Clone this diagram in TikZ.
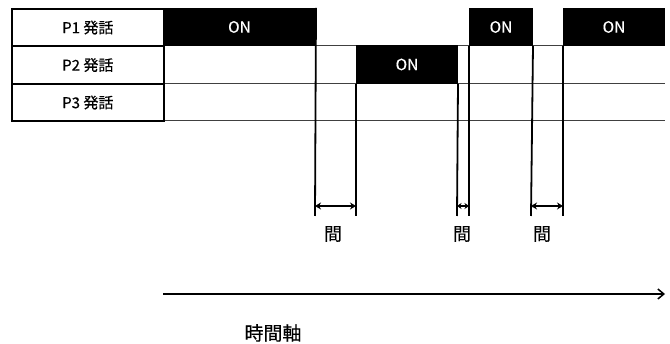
\documentclass[tikz,border=0pt]{standalone}
\usepackage{fontspec}
\setmainfont{Noto Sans CJK JP}[FakeBold=0.4]
\usetikzlibrary{arrows.meta}
\begin{document}
\begin{tikzpicture}[x=1pt,y=-1pt,
  lbl/.style={draw=black, line width=1.6pt, minimum width=152pt, minimum height=37.5pt, inner sep=0pt, anchor=north west, font=\fontsize{15}{17}\selectfont},
  onblk/.style={draw=black, fill=black, line width=1pt, inner sep=0pt, anchor=north west, text=white, font=\fontsize{15.5}{17}\selectfont},
  vline/.style={line width=1.8pt},
  rowline/.style={line width=0.6pt, draw=black!75},
  gaptip/.style={{Stealth[length=6pt,width=7pt]}-{Stealth[length=6pt,width=7pt]}},
  gap/.style={line width=1.4pt, gaptip},
  gaplbl/.style={font=\fontsize{18}{20}\selectfont},
]
\useasboundingbox (0,0) rectangle (670,344);
% row lines
\draw[rowline] (163,45) -- (665,45);
\draw[rowline] (163,83) -- (665,83);
\draw[rowline] (163,120) -- (665,120);
% label cells
\node[lbl] (p1) at (11,8) {P1 発話};
\node[lbl] (p2) at (11,45.5) {P2 発話};
\node[lbl] (p3) at (11,83) {P3 発話};
% ON blocks
\node[onblk, minimum width=152pt, minimum height=37pt] (on1) at (163,8) {ON};
\node[onblk, minimum width=101pt, minimum height=38pt] (on2) at (356,45) {ON};
\node[onblk, minimum width=63pt, minimum height=37pt] (on3) at (469,8) {ON};
\node[onblk, minimum width=101pt, minimum height=37pt] (on4) at (563,8) {ON};
% vertical lines
\coordinate (b1) at (315,216);
\coordinate (b2) at (356,216);
\coordinate (b3) at (457,216);
\coordinate (b4) at (469,216);
\coordinate (b5) at (531,216);
\coordinate (b6) at (563,216);
\draw[vline] (on1.north east) -- (b1);
\draw[vline] (on2.south west) -- (b2);
\draw[vline] (on2.south east) -- (b3);
\draw[vline] (on3.south west) -- (b4);
\draw[vline] (on3.south east) -- (b5);
\draw[vline] (on4.south west) -- (b6);
% gap arrows
\coordinate (g1a) at (315,206); \coordinate (g1b) at (356,206);
\coordinate (g2a) at (457,206); \coordinate (g2b) at (469,206);
\coordinate (g3a) at (531,206); \coordinate (g3b) at (563,206);
\draw[gap] (g1a) -- (g1b);
\draw[line width=1.3pt, {Stealth[length=4.5pt,width=6pt]}-{Stealth[length=4.5pt,width=6pt]}] (g2a) -- (g2b);
\draw[gap] (g3a) -- (g3b);
\node[gaplbl] (m1) at (333,234) {間};
\node[gaplbl] (m2) at (462,234) {間};
\node[gaplbl] (m3) at (542,234) {間};
% time axis
\coordinate (ax0) at (163,294);
\coordinate (ax1) at (665,294);
\draw[line width=1.5pt, -{Straight Barb[length=6pt,width=10pt]}] (ax0) -- (ax1);
\node[font=\fontsize{19}{21}\selectfont] (tax) at (273,333) {時間軸};
\end{tikzpicture}
\end{document}
